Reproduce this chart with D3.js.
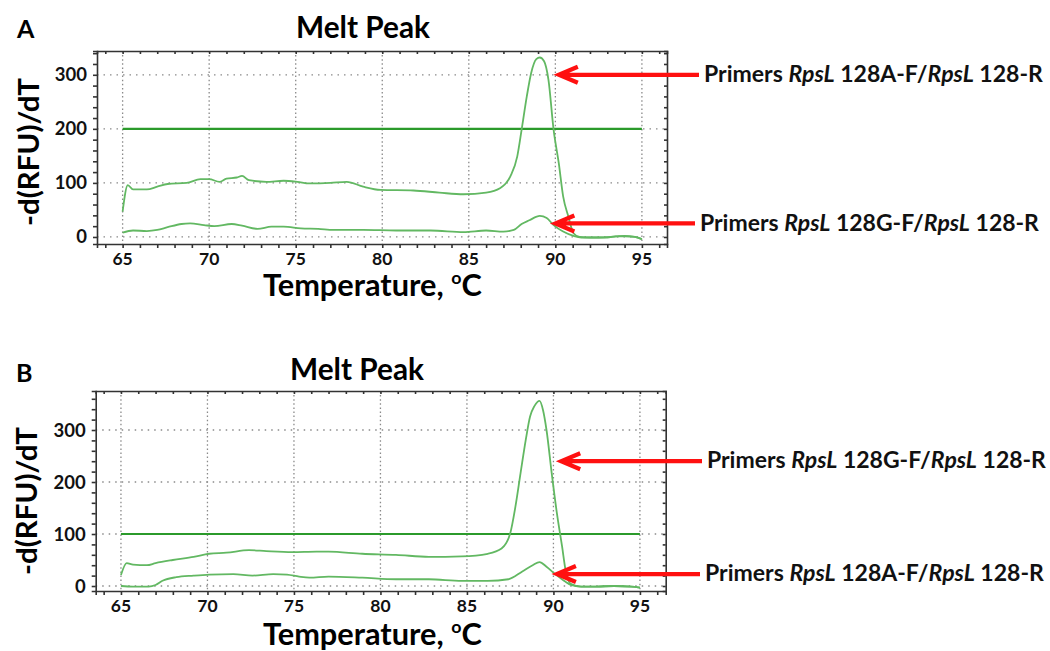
<!DOCTYPE html>
<html><head><meta charset="utf-8">
<script src="https://cdn.jsdelivr.net/npm/d3@7"></script>
<style>
html,body{margin:0;padding:0;background:#fff;}
svg{display:block;font-family:Lato, "Open Sans", sans-serif;}
</style></head>
<body><svg id="c" width="1050" height="651"></svg>
<script>
// ---------- DATA ----------
const xTicks = [65, 70, 75, 80, 85, 90, 95];
const yTicks = [0, 100, 200, 300];

// Panel A: primer 128A-F (high peak)
const aHighT = [65.0,65.3,65.6,66.4,67.0,67.6,68.7,69.5,70.0,70.6,71.0,71.6,71.9,72.3,73.3,74.3,75.1,75.8,77.0,77.95,78.9,79.9,81.8,83.3,84.7,86.0,86.8,87.4,87.8,88.05,88.35,88.6,88.9,89.1,89.35,89.6,89.9,90.2,90.45,90.75,91.05,91.4,92.0,93.0,93.5,94.0,94.6,95.0];
const aHighV = [47,96,88,88,93,98,100,107,107,102,108,110,113,105,102,104,102,99,100,102,93,87,86,82,79,82,90,112,149,198,260,303,329,332,325,291,198,136,75,38,7,0,-1,-1,1,1,0,-4];
// Panel A: primer 128G-F (small peak)
const aLowT = [65.0,65.6,66.4,67.0,67.6,68.4,68.9,69.7,70.3,71.3,71.9,72.8,73.6,74.3,75.3,76.3,77.2,78.9,80.8,82.8,84.7,86.0,87.0,87.6,88.05,88.5,89.1,89.5,89.9,90.45,91.05,91.5,92.5,93.5,94.0,94.6,95.0];
const aLowV = [8,12,11,13,18,24,25,22,20,24,21,15,19,19,16,15,13,13,12,12,9,12,10,13,24,31,39,35,22,10,2,-1,-1,1,2,0,-4];
const aThreshold = [200];

// Panel B: primer 128G-F (high peak)
const bHighT = [65.0,65.33,65.7,66.5,67.0,68.0,69.2,70.1,71.1,72.4,73.4,74.9,76.3,77.0,78.95,80.9,82.8,84.7,86.2,87.0,87.5,87.8,88.1,88.4,88.65,88.9,89.2,89.4,89.6,89.9,90.2,90.5,90.7,91.0,91.6,92.5,93.5,94.5,95.0];
const bHighV = [21,44,41,40,44,50,56,62,64,69,67,65,66,66,62,60,56,57,62,72,101,152,217,281,326,346,356,338,300,217,140,76,31,4,-1,-1,0,-1,-3];
// Panel B: primer 128A-F (small peak)
const bLowT = [65.0,65.7,66.6,67.0,67.4,68.2,69.2,70.1,71.5,72.6,73.8,74.6,75.3,75.9,77.0,78.95,80.9,82.8,84.7,86.2,87.4,88.2,88.8,89.2,89.6,90.1,90.7,91.0,91.6,92.5,93.5,94.5,95.0];
const bLowV = [0,-1,-1,2,10,17,20,22,23,20,23,22,18,16,18,16,13,13,10,10,13,28,40,46,37,23,8,2,-1,-1,0,-1,-3];
const bThreshold = [100];

const thresholdRange = [65, 95];

const labelA1 = ["Primers ", "RpsL", " 128A-F/", "RpsL", " 128-R"];
const labelA2 = ["Primers ", "RpsL", " 128G-F/", "RpsL", " 128-R"];
const labelB1 = labelA2;
const labelB2 = labelA1;

// ---------- DRAW ----------
const svg = d3.select("#c");
const curveColor = "#62b862";
const threshColor = "#2b9a2b";

function fitWidth(sel, target) {
  const w = sel.node().getComputedTextLength();
  const fs = parseFloat(sel.attr("font-size"));
  sel.attr("font-size", fs * target / w);
}

function panel(cfg) {
  const g = svg.append("g");
  const x = d3.scaleLinear().domain(cfg.xDom).range([cfg.left, cfg.right]);
  const y = d3.scaleLinear().domain(cfg.yDom).range([cfg.bottom, cfg.top]);

  // grid
  g.append("g").selectAll("line").data(yTicks).join("line")
    .attr("x1", cfg.left).attr("x2", cfg.right)
    .attr("y1", d => y(d)).attr("y2", d => y(d))
    .attr("stroke", "#8a8a8a").attr("stroke-width", 1.3).attr("stroke-dasharray", "1.5,5");
  g.append("g").selectAll("line").data(xTicks).join("line")
    .attr("x1", d => x(d)).attr("x2", d => x(d))
    .attr("y1", cfg.top).attr("y2", cfg.bottom)
    .attr("stroke", "#8a8a8a").attr("stroke-width", 1.3).attr("stroke-dasharray", "1.5,2.6");

  // axes with minor ticks
  const minorX = d3.range(64, 97, 1);
  const minorY = d3.range(0, cfg.yDom[1], 20);
  const bottomAxis = d3.axisBottom(x).tickValues(minorX).tickSize(4).tickFormat("");
  const topAxis = d3.axisTop(x).tickValues(minorX).tickSize(-3).tickFormat("");
  const leftAxis = d3.axisLeft(y).tickValues(minorY).tickSize(4).tickFormat("");
  const rightAxis = d3.axisRight(y).tickValues(minorY).tickSize(-3).tickFormat("");
  const axStyle = a => { a.selectAll("path").attr("stroke", "#333").attr("stroke-width", 1.6);
                         a.selectAll("line").attr("stroke", "#333").attr("stroke-width", 1.6); };
  g.append("g").attr("transform", `translate(0,${cfg.bottom})`).call(bottomAxis).call(axStyle);
  g.append("g").attr("transform", `translate(0,${cfg.top})`).call(topAxis).call(axStyle);
  g.append("g").attr("transform", `translate(${cfg.left},0)`).call(leftAxis).call(axStyle);
  g.append("g").attr("transform", `translate(${cfg.right},0)`).call(rightAxis).call(axStyle);
  g.selectAll(".domain").attr("stroke", "#333");

  // tick labels
  g.append("g").selectAll("text").data(xTicks).join("text")
    .attr("x", d => x(d)).attr("y", cfg.bottom + cfg.xLabOff)
    .attr("text-anchor", "middle").attr("font-size", 17.5).attr("font-weight", 700)
    .attr("fill", "#111").text(d => d);
  g.append("g").selectAll("text").data(yTicks).join("text")
    .attr("x", cfg.left - 10).attr("y", d => y(d) + 6.5)
    .attr("text-anchor", "end").attr("font-size", 18.5).attr("font-weight", 700)
    .attr("fill", "#111").text(d => d);

  // threshold
  g.append("g").selectAll("line").data(cfg.thresh).join("line")
    .attr("x1", x(thresholdRange[0])).attr("x2", x(thresholdRange[1]))
    .attr("y1", d => y(d)).attr("y2", d => y(d))
    .attr("stroke", threshColor).attr("stroke-width", 2.2);

  // curves
  const line = d3.line().x(d => x(d[0])).y(d => y(d[1])).curve(d3.curveMonotoneX);
  cfg.series.forEach(s => {
    g.append("path").datum(d3.zip(s[0], s[1]))
      .attr("d", line).attr("fill", "none")
      .attr("stroke", curveColor).attr("stroke-width", 1.8).attr("stroke-linejoin", "round");
  });

  // panel letter
  g.append("text").attr("x", cfg.letterX).attr("y", cfg.letterY)
    .attr("font-size", 25).attr("font-weight", 700).attr("fill", "#000").text(cfg.letter);
  // title
  const t = g.append("text").attr("x", cfg.titleX).attr("y", cfg.titleY)
    .attr("text-anchor", "middle").attr("font-size", 27).attr("font-weight", 700).attr("fill", "#000")
    .text("Melt Peak");
  fitWidth(t, 134);
  // y label
  const yl = g.append("text").attr("transform", `translate(${cfg.yLabX},${cfg.yLabY}) rotate(-90)`)
    .attr("text-anchor", "middle").attr("font-size", 27).attr("font-weight", 700).attr("fill", "#000")
    .text("-d(RFU)/dT");
  fitWidth(yl, 148);
  // x label
  const xl = g.append("text").attr("x", cfg.xTitleX).attr("y", cfg.xTitleY)
    .attr("font-size", 27).attr("font-weight", 700).attr("fill", "#000");
  xl.append("tspan").text("Temperature, ");
  xl.append("tspan").attr("font-size", 16).attr("dy", -10).text("o");
  xl.append("tspan").attr("dy", 10).text("C");
  fitWidth(xl, 219);
  const fs2 = parseFloat(xl.attr("font-size"));
  xl.selectAll("tspan").filter((d, i) => i === 1).attr("font-size", fs2 * 0.58).attr("dy", -fs2 * 0.38);
  xl.selectAll("tspan").filter((d, i) => i === 2).attr("dy", fs2 * 0.38);

  // arrows + labels
  cfg.arrows.forEach(a => {
    const ay = y(a.v);
    const tipX = x(a.t);
    g.append("path")
      .attr("d", `M${a.start},${ay}L${tipX + 2},${ay}M${tipX + 19},${ay - 8}L${tipX},${ay}L${tipX + 19},${ay + 8}`)
      .attr("fill", "none").attr("stroke", "#ff1010").attr("stroke-width", 4.2)
      .attr("stroke-linecap", "butt").attr("stroke-linejoin", "miter");
    const tx = g.append("text").attr("x", a.start + 5).attr("y", ay + 7.2)
      .attr("font-size", 20).attr("font-weight", 700).attr("fill", "#111");
    a.label.forEach((s, i) => tx.append("tspan").attr("font-style", i % 2 === 1 ? "italic" : "normal").text(s));
    fitWidth(tx, 339);
  });
}

panel({
  letter: "A", letterX: 17, letterY: 38,
  titleX: 363, titleY: 38,
  left: 97, right: 667, top: 51, bottom: 244,
  xDom: [63.52, 96.45], yDom: [-13, 344],
  xLabOff: 21,
  yLabX: 39, yLabY: 152,
  xTitleX: 263, xTitleY: 296,
  thresh: aThreshold,
  series: [[aHighT, aHighV], [aLowT, aLowV]],
  arrows: [
    { v: 300, t: 90.2, start: 699, label: labelA1 },
    { v: 25, t: 90.0, start: 695, label: labelA2 }
  ]
});

panel({
  letter: "B", letterX: 16, letterY: 382,
  titleX: 357, titleY: 380,
  left: 95.7, right: 665.7, top: 391, bottom: 591,
  xDom: [63.54, 96.49], yDom: [-9.6, 375],
  xLabOff: 21,
  yLabX: 37, yLabY: 501,
  xTitleX: 263, xTitleY: 645,
  thresh: bThreshold,
  series: [[bHighT, bHighV], [bLowT, bLowV]],
  arrows: [
    { v: 240, t: 90.45, start: 702, label: labelB1 },
    { v: 23, t: 90.2, start: 700, label: labelB2 }
  ]
});
</script></body></html>
